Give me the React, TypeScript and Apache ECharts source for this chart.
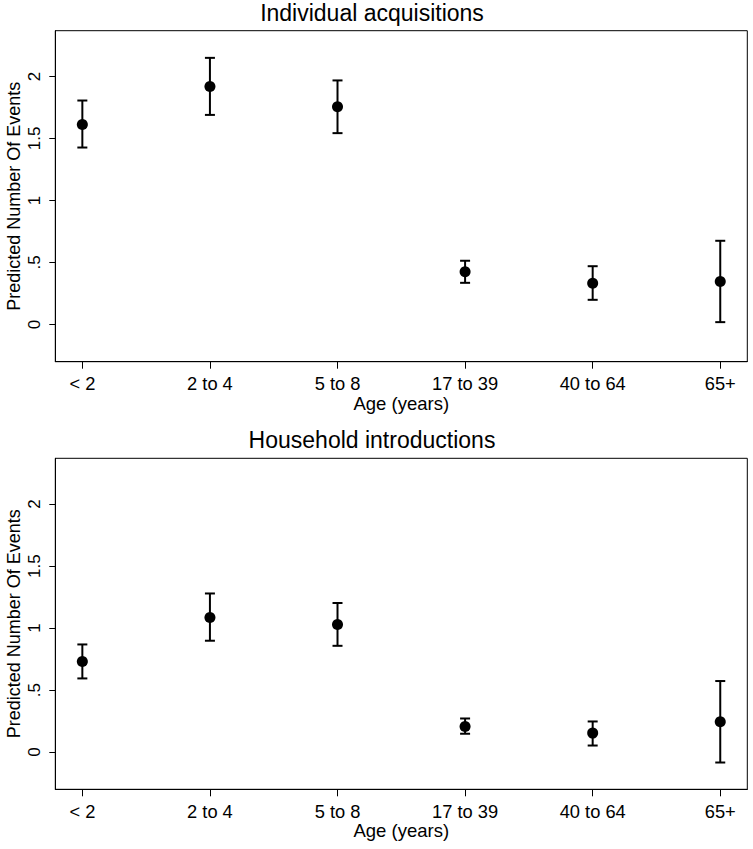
import React, { useEffect, useRef } from "react";
import * as echarts from "echarts";

const categories = ["< 2", "2 to 4", "5 to 8", "17 to 39", "40 to 64", "65+"];
const categoryPositions = [0, 1, 2, 3, 4, 5];

const indivEst = [1.613, 1.919, 1.756, 0.425, 0.333, 0.347];
const indivLo = [1.427, 1.69, 1.543, 0.336, 0.199, 0.019];
const indivHi = [1.806, 2.15, 1.968, 0.514, 0.47, 0.675];

const hhEst = [0.731, 1.086, 1.029, 0.206, 0.153, 0.244];
const hhLo = [0.594, 0.898, 0.857, 0.148, 0.053, -0.084];
const hhHi = [0.868, 1.279, 1.202, 0.271, 0.247, 0.573];

const yTicks = [0, 0.5, 1, 1.5, 2];
const yTickLabels = ["0", ".5", "1", "1.5", "2"];

const titles = ["Individual acquisitions", "Household introductions"];
const xTitle = "Age (years)";
const yTitle = "Predicted Number Of Events";

const FONT = "'Liberation Sans', Arial, Helvetica, sans-serif";

export default function App() {
  const ref = useRef<HTMLDivElement>(null);

  useEffect(() => {
    if (!ref.current) return;
    const chart = echarts.init(ref.current, null, { renderer: "svg" });

    const panelTops = [30.7, 458.3];
    const gridH = 331;
    const gridLeft = 55.3;
    const gridW = 692;

    const grids = panelTops.map((t) => ({
      left: gridLeft,
      top: t,
      width: gridW,
      height: gridH,
      show: true,
      borderColor: "#000",
      borderWidth: 1,
      backgroundColor: "#fff",
      containLabel: false,
      outerBoundsMode: "none",
    }));

    const xAxes = panelTops.map((_, i) => ({
      type: "value",
      gridIndex: i,
      min: -0.212,
      max: 5.212,
      name: xTitle,
      nameLocation: "middle",
      nameGap: 32,
      nameMoveOverlap: false,
      nameTextStyle: { fontFamily: FONT, fontSize: 18.5, color: "#000" },
      splitLine: { show: false },
      axisLine: { show: true, onZero: false, lineStyle: { color: "#000", width: 1 } },
      axisTick: {
        show: true,
        length: 7,
        customValues: categoryPositions,
        lineStyle: { color: "#000", width: 1 },
      },
      axisLabel: {
        customValues: categoryPositions,
        formatter: (v: number) => categories[Math.round(v)] ?? "",
        fontFamily: FONT,
        fontSize: 18.3,
        color: "#000",
        margin: 13,
      },
    }));

    const yAxes = panelTops.map((_, i) => ({
      type: "value",
      gridIndex: i,
      min: -0.3,
      max: 2.369,
      name: yTitle,
      nameLocation: "middle",
      nameRotate: 90,
      nameGap: 32,
      nameMoveOverlap: false,
      nameTextStyle: { fontFamily: FONT, fontSize: 18, color: "#000" },
      splitLine: { show: false },
      axisLine: { show: true, onZero: false, lineStyle: { color: "#000", width: 1 } },
      axisTick: {
        show: true,
        length: 6,
        customValues: yTicks,
        lineStyle: { color: "#000", width: 1 },
      },
      axisLabel: {
        customValues: yTicks,
        rotate: 90,
        formatter: (v: number) => {
          const idx = yTicks.findIndex((t) => Math.abs(t - v) < 1e-9);
          return idx >= 0 ? yTickLabels[idx] : "";
        },
        fontFamily: FONT,
        fontSize: 17,
        color: "#000",
        margin: 12,
      },
    }));

    const errorRender = (params: any, api: any) => {
      const x = api.value(0);
      const lo = api.value(1);
      const hi = api.value(2);
      const p1 = api.coord([x, lo]);
      const p2 = api.coord([x, hi]);
      const hw = 5;
      const style = { stroke: "#000", lineWidth: 2 };
      return {
        type: "group",
        children: [
          { type: "line", shape: { x1: p1[0], y1: p1[1], x2: p2[0], y2: p2[1] }, style },
          { type: "line", shape: { x1: p1[0] - hw, y1: p1[1], x2: p1[0] + hw, y2: p1[1] }, style },
          { type: "line", shape: { x1: p2[0] - hw, y1: p2[1], x2: p2[0] + hw, y2: p2[1] }, style },
        ],
      };
    };

    const panels = [
      { est: indivEst, lo: indivLo, hi: indivHi },
      { est: hhEst, lo: hhLo, hi: hhHi },
    ];

    const series: any[] = [];
    panels.forEach((p, i) => {
      series.push({
        type: "custom",
        xAxisIndex: i,
        yAxisIndex: i,
        renderItem: errorRender,
        encode: { x: 0, y: [1, 2] },
        data: categoryPositions.map((x, j) => [x, p.lo[j], p.hi[j]]),
        silent: true,
        z: 2,
      });
      series.push({
        type: "scatter",
        xAxisIndex: i,
        yAxisIndex: i,
        symbol: "circle",
        symbolSize: 11,
        itemStyle: { color: "#000", opacity: 1 },
        data: categoryPositions.map((x, j) => [x, p.est[j]]),
        silent: true,
        z: 3,
      });
    });

    chart.setOption({
      animation: false,
      backgroundColor: "#fff",
      textStyle: { fontFamily: FONT },
      title: titles.map((t, i) => ({
        text: t,
        left: 372,
        textAlign: "center",
        top: i === 0 ? 1 : 428.6,
        padding: 0,
        textStyle: { fontFamily: FONT, fontSize: 23, fontWeight: "normal", color: "#000" },
      })),
      grid: grids,
      xAxis: xAxes,
      yAxis: yAxes,
      series,
    });

    return () => chart.dispose();
  }, []);

  return (
    <div
      ref={ref}
      style={{ position: "fixed", left: 0, top: 0, width: 753, height: 849, background: "#fff" }}
    />
  );
}
